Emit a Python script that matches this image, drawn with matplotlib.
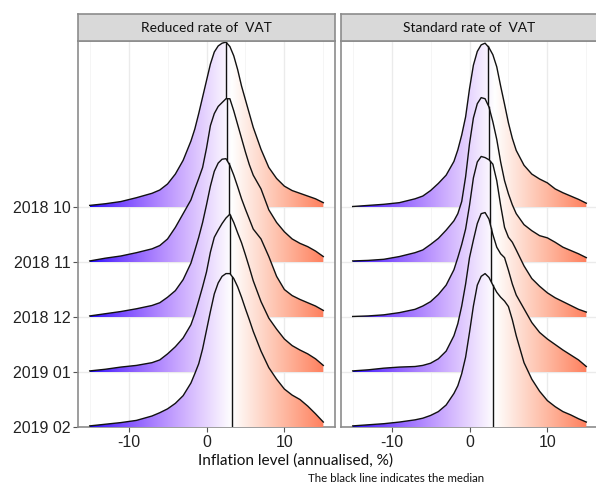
import numpy as np
import matplotlib

matplotlib.use("Agg")
import matplotlib.pyplot as plt
from matplotlib.patches import Polygon

# ---- data -----------------------------------------------------------------
months = ["2018 10", "2018 11", "2018 12", "2019 01", "2019 02"]
panel_titles = ["Reduced rate of  VAT", "Standard rate of  VAT"]

# inflation level (%) at which the ridge heights are read
x_grid = [-15, -13, -11, -9, -7, -6, -5, -4, -3, -2, -1.5, -1, -0.5, 0, 0.5, 1,
          1.5, 2, 2.5, 3, 3.5, 4, 4.5, 5, 5.5, 6, 7, 8, 9, 10, 11, 12, 13, 14, 15]

# scaled density heights (1 = spacing between two months)
reduced_2018_10 = [0.03, 0.06, 0.10, 0.17, 0.25, 0.31, 0.42, 0.60, 0.85, 1.20, 1.42, 1.70,
                   2.00, 2.30, 2.60, 2.82, 2.93, 2.98, 3.00, 2.92, 2.75, 2.50, 2.20, 1.95,
                   1.70, 1.45, 1.05, 0.72, 0.52, 0.38, 0.30, 0.25, 0.20, 0.15, 0.08]
reduced_2018_11 = [0.02, 0.07, 0.11, 0.17, 0.24, 0.30, 0.42, 0.63, 0.88, 1.13, 1.33, 1.52,
                   1.72, 2.07, 2.48, 2.70, 2.83, 2.90, 2.97, 2.97, 2.75, 2.50, 2.25, 2.00,
                   1.77, 1.58, 1.33, 0.95, 0.72, 0.55, 0.42, 0.34, 0.28, 0.20, 0.10]
reduced_2018_12 = [0.02, 0.06, 0.10, 0.15, 0.21, 0.26, 0.36, 0.48, 0.68, 0.98, 1.21, 1.45,
                   1.72, 2.04, 2.38, 2.65, 2.80, 2.87, 2.88, 2.76, 2.58, 2.37, 2.15, 1.96,
                   1.78, 1.60, 1.42, 1.10, 0.74, 0.50, 0.39, 0.32, 0.26, 0.20, 0.12]
reduced_2019_01 = [0.02, 0.05, 0.09, 0.12, 0.17, 0.22, 0.33, 0.46, 0.62, 0.86, 1.06, 1.30,
                   1.55, 1.82, 2.18, 2.45, 2.58, 2.70, 2.80, 2.87, 2.72, 2.53, 2.35, 2.13,
                   1.90, 1.66, 1.28, 0.98, 0.78, 0.60, 0.48, 0.40, 0.33, 0.24, 0.12]
reduced_2019_02 = [0.02, 0.05, 0.08, 0.12, 0.20, 0.26, 0.33, 0.43, 0.57, 0.80, 0.97, 1.15,
                   1.42, 1.76, 2.10, 2.42, 2.62, 2.74, 2.79, 2.79, 2.70, 2.55, 2.36, 2.15,
                   1.95, 1.74, 1.38, 1.08, 0.87, 0.69, 0.58, 0.50, 0.38, 0.24, 0.09]

standard_2018_10 = [0.01, 0.03, 0.05, 0.08, 0.15, 0.20, 0.30, 0.43, 0.58, 0.83, 1.04, 1.31,
                    1.64, 2.15, 2.58, 2.83, 2.95, 2.98, 2.90, 2.77, 2.55, 2.20, 1.87, 1.53,
                    1.25, 1.03, 0.76, 0.60, 0.51, 0.44, 0.33, 0.26, 0.20, 0.14, 0.07]
standard_2018_11 = [0.02, 0.03, 0.05, 0.10, 0.17, 0.22, 0.32, 0.43, 0.58, 0.75, 0.88, 1.10,
                    1.55, 2.15, 2.62, 2.88, 2.99, 2.97, 2.82, 2.55, 2.23, 1.82, 1.48, 1.24,
                    1.04, 0.88, 0.68, 0.57, 0.48, 0.44, 0.36, 0.27, 0.21, 0.15, 0.08]
standard_2018_12 = [0.01, 0.02, 0.04, 0.08, 0.14, 0.20, 0.28, 0.41, 0.58, 0.86, 1.08, 1.32,
                    1.60, 2.03, 2.53, 2.82, 2.92, 2.90, 2.86, 2.78, 2.48, 2.03, 1.63, 1.45,
                    1.36, 1.22, 0.93, 0.70, 0.56, 0.44, 0.35, 0.28, 0.21, 0.14, 0.09]
standard_2019_01 = [0.02, 0.04, 0.07, 0.09, 0.10, 0.12, 0.16, 0.24, 0.38, 0.66, 0.88, 1.20,
                    1.60, 2.08, 2.40, 2.70, 2.88, 2.90, 2.78, 2.50, 2.27, 2.15, 2.08, 1.85,
                    1.60, 1.40, 1.15, 0.90, 0.72, 0.60, 0.50, 0.40, 0.31, 0.22, 0.10]
standard_2019_02 = [0.02, 0.04, 0.06, 0.09, 0.13, 0.16, 0.21, 0.28, 0.40, 0.61, 0.75, 0.97,
                    1.27, 1.72, 2.20, 2.58, 2.74, 2.79, 2.72, 2.58, 2.45, 2.36, 2.29, 2.19,
                    1.95, 1.66, 1.17, 0.87, 0.65, 0.48, 0.37, 0.28, 0.22, 0.15, 0.09]

median_reduced = [2.45, 2.67, 2.84, 3.05, 3.3]
median_standard = [2.35, 2.5, 2.65, 2.8, 3.0]

fill_midpoint = 3.2

panels = [
    (panel_titles[0], [reduced_2018_10, reduced_2018_11, reduced_2018_12,
                       reduced_2019_01, reduced_2019_02], median_reduced),
    (panel_titles[1], [standard_2018_10, standard_2018_11, standard_2018_12,
                       standard_2019_01, standard_2019_02], median_standard),
]


# ---- ggplot-like gradient2 (blue / white / red, interpolated in CIELAB) ----
def _srgb_to_lab(rgb):
    rgb = np.asarray(rgb, float)
    lin = np.where(rgb <= 0.04045, rgb / 12.92, ((rgb + 0.055) / 1.055) ** 2.4)
    m = np.array([[0.4124, 0.3576, 0.1805],
                  [0.2126, 0.7152, 0.0722],
                  [0.0193, 0.1192, 0.9505]])
    xyz = lin @ m.T / np.array([0.95047, 1.0, 1.08883])
    f = np.where(xyz > 0.008856, np.cbrt(xyz), 7.787 * xyz + 16 / 116)
    return np.stack([116 * f[..., 1] - 16,
                     500 * (f[..., 0] - f[..., 1]),
                     200 * (f[..., 1] - f[..., 2])], axis=-1)


def _lab_to_srgb(lab):
    L, a, b = lab[..., 0], lab[..., 1], lab[..., 2]
    fy = (L + 16) / 116
    fx = fy + a / 500
    fz = fy - b / 200
    f = np.stack([fx, fy, fz], axis=-1)
    xyz = np.where(f > 0.2069, f ** 3, (f - 16 / 116) / 7.787)
    xyz = xyz * np.array([0.95047, 1.0, 1.08883])
    minv = np.array([[3.2406, -1.5372, -0.4986],
                     [-0.9689, 1.8758, 0.0415],
                     [0.0557, -0.2040, 1.0570]])
    lin = xyz @ minv.T
    lin = np.clip(lin, 0, 1)
    rgb = np.where(lin <= 0.0031308, 12.92 * lin, 1.055 * lin ** (1 / 2.4) - 0.055)
    return np.clip(rgb, 0, 1)


LOW = _srgb_to_lab([0.0, 0.0, 1.0])
MID = _srgb_to_lab([1.0, 1.0, 1.0])
HIGH = _srgb_to_lab([1.0, 0.0, 0.0])


def gradient_colors(xs, lo, hi, mid):
    span = max(abs(lo - mid), abs(hi - mid))
    t = (xs - mid) / (2 * span) + 0.5
    t = np.clip(t, 0, 1)[:, None]
    lab = np.where(t < 0.5,
                   LOW + (MID - LOW) * (t / 0.5),
                   MID + (HIGH - MID) * ((t - 0.5) / 0.5))
    return _lab_to_srgb(lab)


# ---- figure -----------------------------------------------------------------
W, H = 596, 486
fig = plt.figure(figsize=(W / 100, H / 100), dpi=100)

border = "#8c8c8c"
grid_major = "#ebebeb"
grid_minor = "#f4f4f4"
text_font = ["Lato", "DejaVu Sans"]

x = np.array(x_grid, float)
xs_img = np.linspace(x.min(), x.max(), 500)
img = gradient_colors(xs_img, x.min(), x.max(), fill_midpoint)[None, :, :]

panel_left = [78, 341]
panel_w = 257
panel_top, panel_bot = 41, 427
strip_top = 14

for p, (title, ridges, medians) in enumerate(panels):
    ax = fig.add_axes([panel_left[p] / W, 1 - panel_bot / H,
                       panel_w / W, (panel_bot - panel_top) / H])
    ax.set_xlim(-16.5, 16.5)
    ax.set_ylim(1, 8.02)

    # grid
    for gx in [-15, -5, 5, 15]:
        ax.axvline(gx, color=grid_minor, lw=0.6, zorder=0)
    for gx in [-10, 0, 10]:
        ax.axvline(gx, color=grid_major, lw=1.0, zorder=0)
    for i in range(len(months)):
        ax.axhline(5 - i, color=grid_major, lw=1.0, zorder=0)

    # top ridge first, lower ridges drawn in front
    for i, (h, med) in enumerate(zip(ridges, medians)):
        base = 5 - i
        h = np.array(h, float)
        z = 2 + i
        verts = [(x[0], base)] + list(zip(x, base + h)) + [(x[-1], base)]
        poly = Polygon(verts, closed=True, facecolor="none", edgecolor="none",
                       transform=ax.transData)
        ax.add_patch(poly)
        im = ax.imshow(img, extent=(x[0], x[-1], base, base + h.max()),
                       aspect="auto", origin="lower", interpolation="bilinear",
                       zorder=z)
        im.set_clip_path(poly)
        ax.plot(x, base + h, color="#111111", lw=1.0, zorder=z + 0.2,
                solid_joinstyle="round")
        hm = np.interp(med, x, h)
        ax.plot([med, med], [base, base + hm], color="#111111", lw=1.0,
                zorder=z + 0.1)

    ax.set_xticks([-10, 0, 10])
    ax.set_xticklabels(["-10", "0", "10"], family="Liberation Sans",
                       fontsize=11.5, color="#222222")
    ax.tick_params(axis="both", length=3.5, width=0.8, color="#555555", pad=2)
    if p == 0:
        ax.set_yticks([5, 4, 3, 2, 1])
        ax.set_yticklabels(months, family="Liberation Sans", fontsize=11.5,
                           color="#222222")
    else:
        ax.set_yticks([])
    for s in ax.spines.values():
        s.set_color(border)
        s.set_linewidth(1.2)

    # facet strip
    sax = fig.add_axes([panel_left[p] / W, 1 - panel_top / H,
                        panel_w / W, (panel_top - strip_top) / H])
    sax.set_facecolor("#d9d9d9")
    sax.set_xticks([])
    sax.set_yticks([])
    for s in sax.spines.values():
        s.set_color(border)
        s.set_linewidth(1.2)
    sax.text(0.5, 0.47, title, ha="center", va="center", transform=sax.transAxes,
             family=text_font, fontsize=9.9, color="#111111")

fig.text(296 / W, 1 - 461 / H, "Inflation level (annualised, %)", ha="center",
         va="center", family=text_font, fontsize=11.1, color="#111111")
fig.text(396 / W, 1 - 478 / H, "The black line indicates the median", ha="center",
         va="center", family=text_font, fontsize=8.3, color="#111111")

fig.savefig("out.png", dpi=100)
